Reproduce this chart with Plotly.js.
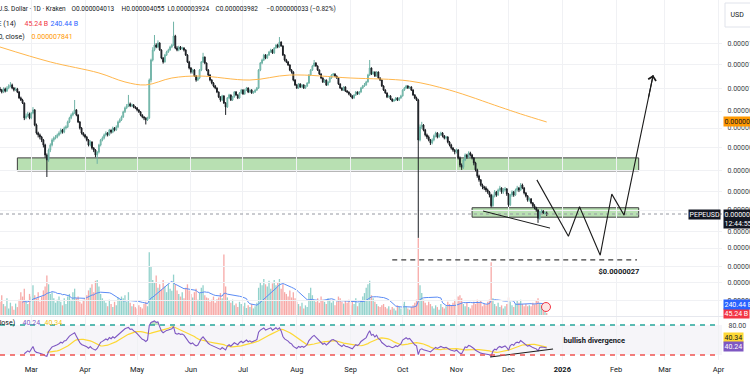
<!DOCTYPE html>
<html><head><meta charset="utf-8">
<script src="https://cdn.plot.ly/plotly-3.0.1.min.js"></script>
<style>html,body{margin:0;padding:0;overflow:hidden;background:#fff}#chart{width:800px;height:375px}</style>
</head><body><div id="chart"></div>
<script>
// ---------- data (prices in units of 1e-8 USD, volume in billions) ----------
const START_Y = 2025, START_M = 1, START_D = 11; // first candle: 2025-02-11
const FIRST_OPEN_E8 = 1000;
const closeE8 = [
992,978,1000,985,1007,1022,1030,1007,992,1000,
978,936,922,902,808,820,832,808,838,857,
767,723,713,702,687,662,615,593,638,662,
687,697,702,713,723,739,728,750,756,784,
808,826,838,857,826,784,750,723,713,702,
687,662,677,647,638,615,629,662,687,697,
713,723,713,739,728,750,739,756,784,796,
814,845,870,883,896,883,889,876,870,857,
845,826,814,808,796,808,1068,1238,1332,1382,
1362,1403,1332,1256,1220,1284,1313,1332,1362,1382,
1477,1352,1332,1362,1342,1352,1332,1284,1220,1167,
1133,1150,1100,1068,1084,1150,1220,1265,1211,1150,
1108,1068,1045,1022,1007,978,943,922,950,902,
876,936,957,922,943,978,957,936,971,992,
964,992,1007,978,992,971,978,992,1007,1150,
1211,1238,1284,1256,1284,1313,1332,1303,1352,1382,
1362,1413,1372,1284,1238,1220,1193,1150,1133,1068,
1030,1007,1038,1015,1030,1007,1022,1045,1108,1150,
1184,1211,1184,1150,1117,1084,1053,1068,1030,1053,
1084,1108,1117,1100,1084,1038,1007,992,1015,985,
978,964,950,936,957,978,964,978,1007,1022,
1030,1053,1108,1167,1117,1133,1100,1133,1084,1068,
1022,992,971,943,950,929,915,922,936,922,
936,950,992,1007,1022,1007,1015,992,957,936,
922,687,756,767,739,713,702,687,672,687,
708,723,702,713,723,708,697,702,677,662,
647,638,629,638,602,571,562,593,615,606,
624,615,602,580,551,527,512,493,486,482,
475,468,458,423,455,468,458,475,482,468,
475,479,461,426,458,468,458,475,482,475,
493,482,465,455,441,445,432,423,417,410,
386,404,407,401,401.3,398.2];
const highE8 = [
1015,1000,1012,1010,1020,1035,1052,1040,1015,1012,
1008,985,945,930,905,835,845,840,845,875,
862,775,730,720,708,692,668,622,645,670,
695,705,712,720,732,748,745,758,765,792,
815,835,848,922,862,830,790,755,728,718,
708,692,685,680,652,642,632,668,692,705,
720,732,728,745,742,758,755,765,792,805,
822,852,878,895,957,905,898,895,882,875,
862,850,830,818,812,815,1080,1250,1360,1488,
1400,1430,1410,1340,1265,1295,1325,1345,1375,1395,
1641,1490,1370,1375,1372,1365,1360,1340,1292,1230,
1175,1160,1158,1108,1095,1158,1228,1305,1270,1215,
1158,1115,1075,1052,1030,1012,982,948,958,955,
908,942,965,960,950,985,985,962,978,1000,
998,998,1015,1012,998,998,985,998,1015,1158,
1220,1250,1295,1292,1292,1322,1345,1340,1360,1390,
1395,1466,1420,1380,1292,1248,1228,1200,1158,1140,
1075,1038,1045,1042,1035,1035,1028,1050,1115,1158,
1192,1238,1218,1190,1155,1122,1090,1075,1072,1060,
1092,1115,1125,1122,1105,1090,1042,1012,1020,1020,
992,982,968,955,962,985,982,985,1015,1030,
1045,1062,1118,1238,1172,1140,1138,1140,1138,1090,
1072,1028,998,975,958,955,932,928,942,940,
942,958,998,1015,1030,1028,1022,1020,998,962,
945,930,770,785,772,745,720,710,692,695,
715,730,728,720,730,728,712,708,706,682,
668,652,642,645,642,608,578,598,622,620,
632,630,620,606,585,556,532,515,498,490,
488,480,472,462,460,475,472,480,490,485,
482,486,482,465,462,474,472,480,490,486,
500,498,486,468,458,450,448,435,428,420,
413,408,412,410,406,405.5];
const lowE8 = [
980,968,970,975,978,998,1012,998,982,985,
970,930,915,895,795,800,812,800,800,830,
760,715,700,690,676,650,603,523,585,628,
655,678,690,695,706,716,720,722,742,750,
778,800,818,832,818,778,742,715,705,695,
680,655,655,640,628,605,576,622,655,680,
690,705,705,708,720,722,732,735,750,778,
790,808,838,862,875,875,875,868,862,848,
838,818,806,795,770,790,802,1050,1225,1320,
1350,1350,1325,1245,1205,1215,1275,1305,1325,1350,
1375,1340,1320,1320,1332,1335,1318,1275,1210,1155,
1120,1120,1092,1055,1060,1075,1140,1210,1200,1140,
1098,1058,1035,1012,998,970,935,910,915,895,
826,870,930,915,915,938,950,928,930,965,
958,958,985,970,972,965,965,972,985,1000,
1140,1200,1228,1245,1248,1275,1305,1295,1295,1345,
1350,1355,1365,1275,1225,1210,1185,1140,1120,1058,
1022,1000,1000,1008,1008,1000,1000,1015,1038,1100,
1142,1178,1178,1142,1108,1075,1045,1045,1022,1025,
1045,1078,1100,1092,1078,1030,1000,985,985,978,
970,955,942,928,930,950,958,958,972,1000,
1015,1025,1048,1100,1108,1110,1092,1095,1078,1060,
1015,985,965,935,938,922,908,910,915,915,
915,930,945,985,1000,1000,1000,985,950,928,
915,334,680,745,732,705,692,680,662,665,
680,700,695,698,708,700,690,690,670,655,
640,630,618,622,595,562,551,555,588,598,
600,608,595,570,545,520,505,488,478,475,
468,462,450,418,420,450,452,455,470,462,
462,470,455,420,422,452,452,455,470,468,
472,478,460,450,436,436,428,418,412,405,
373,382,400,398,396,392.4];
const volumeB = [
300,450,250,200,380,150,280,200,120,260,
180,350,520,420,600,300,250,480,420,680,
450,380,520,300,420,560,650,900,700,480,
520,380,280,350,420,300,220,380,250,420,
480,350,520,600,380,420,300,260,350,380,
450,560,620,700,520,780,800,650,480,380,
320,280,200,350,250,180,300,220,400,350,
420,380,450,300,520,280,200,250,180,150,
220,180,150,250,300,200,1430,1100,800,750,
900,620,700,580,800,650,520,700,600,550,
920,700,560,480,420,520,380,620,700,560,
480,400,520,600,350,500,620,680,450,400,
380,300,350,420,280,360,400,500,380,1380,
650,400,320,280,350,220,260,180,300,250,
200,280,160,220,180,250,150,200,280,620,
750,680,820,700,650,780,600,720,800,680,
750,820,600,700,520,480,420,560,400,520,
380,300,250,200,280,150,220,180,500,620,
450,350,300,380,280,420,350,300,250,380,
320,280,350,220,300,420,380,300,260,320,
280,350,220,300,250,380,200,280,320,420,
500,620,700,780,450,380,300,250,200,180,
220,250,180,150,200,120,180,150,100,220,
180,150,250,300,200,150,120,180,220,280,
350,1750,680,500,350,280,220,300,250,200,
150,220,180,120,250,180,150,200,300,250,
220,280,350,300,420,450,380,250,200,280,
180,150,220,300,250,350,280,320,200,250,
220,300,350,1200,380,250,200,280,180,220,
150,200,250,400,300,220,180,250,320,280,
350,250,200,250,200,220,200,280,240,340,
380,272,220,240,280,45.24];
const sma200Dates = ['2025-02-11','2025-03-12','2025-04-09','2025-04-24','2025-05-06','2025-05-21','2025-06-06','2025-07-05','2025-07-28','2025-09-01','2025-10-05','2025-10-28','2025-11-26','2025-12-08','2025-12-23'];
const sma200E8 = [1362,1220,1125,1053,1030,1084,1100,1068,1108,1084,1060,992,876,832,784.1];
const priceTicksE8 = [1400,1200,1000,850,750,650,550,470,410,350,310,270,240,210];
const monthTicks = ['2025-03-01','2025-04-01','2025-05-01','2025-06-01','2025-07-01','2025-08-01','2025-09-01','2025-10-01','2025-11-01','2025-12-01','2026-01-01','2026-02-01','2026-03-01','2026-04-01'];
const monthLabels = ['Mar','Apr','May','Jun','Jul','Aug','Sep','Oct','Nov','Dec','<b>2026</b>','Feb','Mar','Apr'];
const upperZoneDates = ['2025-02-21','2026-02-14'];
const upperZoneE8 = [547, 602];
const lowerZoneDates = ['2025-11-10','2026-02-14'];
const lowerZoneE8 = [389, 417];
const targetDates = ['2025-09-25','2026-02-13'];
const targetE8 = 284;
const wedgeDates = ['2025-11-16 08:00','2025-12-24 22:00'];
const wedgeE8 = [407, 359];
const projDates = ['2025-12-17 08:00','2026-01-04 12:00','2026-01-10 22:00','2026-01-22 20:00','2026-01-29 12:00','2026-02-05 14:00','2026-02-22 08:00'];
const projE8 = [512, 338, 420, 294, 461, 395, 1108];
const divDates = ['2025-11-20 10:00','2025-12-26 16:00'];
const divRsi = [16, 32];
const lastCloseE8 = 398.2;
const smaLastE8 = 784.1;

// ---------- helpers ----------
const E8 = 1e-8;
const FONT = 'Roboto, "Liberation Sans", Arial, sans-serif';
const TXT = '#131722';
const PW = 722, PH = 360;
const X_RANGE = ['2025-02-11', '2026-04-03'];
const PRICE_DOM = [44/360, 1], PRICE_RANGE = [Math.log10(1.879e-6), Math.log10(1.9254e-5)];
const VOL_DOM = [45/360, 124/360], VOL_RANGE = [0, 1800];
const RSI_DOM = [0, 43/360], RSI_RANGE = [10, 96];
const xP = p => p / PW;
const yP = p => (PH - p) / PH;
const pY = v => PRICE_DOM[0] + (Math.log10(v) - PRICE_RANGE[0]) / (PRICE_RANGE[1] - PRICE_RANGE[0]) * (PRICE_DOM[1] - PRICE_DOM[0]);
const vY = v => VOL_DOM[0] + (v - VOL_RANGE[0]) / (VOL_RANGE[1] - VOL_RANGE[0]) * (VOL_DOM[1] - VOL_DOM[0]);
const rY = v => RSI_DOM[0] + (v - RSI_RANGE[0]) / (RSI_RANGE[1] - RSI_RANGE[0]) * (RSI_DOM[1] - RSI_DOM[0]);
const toP = a => a.map(v => v * E8);

const dates = closeE8.map((_, i) => new Date(Date.UTC(START_Y, START_M, START_D + i)).toISOString().slice(0, 10));
const openE8 = [FIRST_OPEN_E8].concat(closeE8.slice(0, -1));

function wilderRSI(c, n) {
  const out = c.map(() => null);
  let g = 0, l = 0;
  for (let i = 1; i <= n; i++) { const d = c[i] - c[i-1]; if (d > 0) g += d; else l -= d; }
  g /= n; l /= n;
  out[n] = l === 0 ? 100 : 100 - 100 / (1 + g / l);
  for (let i = n + 1; i < c.length; i++) {
    const d = c[i] - c[i-1];
    g = (g * (n - 1) + Math.max(d, 0)) / n;
    l = (l * (n - 1) + Math.max(-d, 0)) / n;
    out[i] = l === 0 ? 100 : 100 - 100 / (1 + g / l);
  }
  return out;
}
function sma(a, n) {
  return a.map((_, i) => {
    if (i < n - 1) return null;
    let s = 0;
    for (let k = i - n + 1; k <= i; k++) { if (a[k] == null) return null; s += a[k]; }
    return s / n;
  });
}
const rsi = wilderRSI(closeE8, 14);
const rsiMA = sma(rsi, 14);
const volMA = sma(volumeB, 14);
const volColors = closeE8.map((c, i) => c >= openE8[i] ? 'rgba(38,166,154,0.5)' : 'rgba(239,83,80,0.5)');

// ---------- traces ----------
const traces = [
  {type:'bar', x:dates, y:volumeB, xaxis:'x', yaxis:'y', marker:{color:volColors, line:{width:0}}, hoverinfo:'skip'},
  {type:'scatter', mode:'lines', x:dates, y:volMA, xaxis:'x', yaxis:'y', line:{color:'#5b8cf5', width:1}, hoverinfo:'skip'},
  {type:'scatter', mode:'lines', x:sma200Dates, y:toP(sma200E8), xaxis:'x', yaxis:'y2', line:{color:'#ffb74d', width:1, shape:'spline', smoothing:1}, hoverinfo:'skip'},
  {type:'candlestick', x:dates, open:toP(openE8), high:toP(highE8), low:toP(lowE8), close:toP(closeE8), xaxis:'x', yaxis:'y2',
    increasing:{line:{color:'#6fb3a6', width:1}, fillcolor:'#a3d5ca'},
    decreasing:{line:{color:'#1c1f24', width:1}, fillcolor:'#1c1f24'}, whiskerwidth:0, hoverinfo:'skip'},
  {type:'scatter', mode:'lines', x:X_RANGE, y:[lastCloseE8*E8, lastCloseE8*E8], xaxis:'x', yaxis:'y2', line:{color:'#9598a1', width:1, dash:'dot'}, hoverinfo:'skip'},
  {type:'scatter', mode:'lines', x:targetDates, y:[targetE8*E8, targetE8*E8], xaxis:'x', yaxis:'y2', line:{color:'#3d3d3d', width:1.4, dash:'5px,4px'}, hoverinfo:'skip'},
  {type:'scatter', mode:'lines', x:wedgeDates, y:toP(wedgeE8), xaxis:'x', yaxis:'y2', line:{color:'#1b1b1b', width:1}, hoverinfo:'skip'},
  {type:'scatter', mode:'lines', x:projDates, y:toP(projE8), xaxis:'x', yaxis:'y2', line:{color:'#1b1b1b', width:1.1}, hoverinfo:'skip'},
  {type:'scatter', mode:'lines', x:dates, y:rsi.map(v => v == null ? null : 80), xaxis:'x', yaxis:'y3', line:{width:0}, hoverinfo:'skip'},
  {type:'scatter', mode:'lines', x:dates, y:rsi.map(v => v == null ? null : Math.max(v, 80)), xaxis:'x', yaxis:'y3', line:{width:0}, fill:'tonexty', fillcolor:'rgba(76,175,80,0.35)', hoverinfo:'skip'},
  {type:'scatter', mode:'lines', x:dates, y:rsiMA, xaxis:'x', yaxis:'y3', line:{color:'#fdd835', width:1.2}, hoverinfo:'skip'},
  {type:'scatter', mode:'lines', x:dates, y:rsi, xaxis:'x', yaxis:'y3', line:{color:'#7e57c2', width:1.1}, hoverinfo:'skip'},
  {type:'scatter', mode:'lines', x:divDates, y:divRsi, xaxis:'x', yaxis:'y3', line:{color:'#1b1b1b', width:1.1}, hoverinfo:'skip'}
];

// ---------- annotations ----------
function ann(o) {
  const base = {showarrow:false, xref:'paper', yref:'paper', yanchor:'middle', xanchor:'left', borderpad:0.5,
    font:{family:FONT, size:7, color:TXT}};
  const r = Object.assign(base, o);
  if (o.font) r.font = Object.assign({family:FONT, size:7, color:TXT}, o.font);
  return r;
}
const R1 = {size:6.5};
const annotations = [
  ann({x:xP(68), y:yP(8), xanchor:'right', text:'PEPE / U.S. Dollar · 1D · Kraken', font:R1}),
  ann({x:xP(70), y:yP(8), text:'O0.000004013', font:R1}),
  ann({x:xP(120), y:yP(8), text:'H0.000004055', font:R1}),
  ann({x:xP(166), y:yP(8), text:'L0.000003924', font:R1}),
  ann({x:xP(214), y:yP(8), text:'C0.000003982', font:R1}),
  ann({x:xP(265), y:yP(8), text:'−0.000000033 (−0.82%)', font:R1}),
  ann({x:xP(18), y:yP(23), xanchor:'right', text:'Vol · PEPE (14)'}),
  ann({x:xP(23), y:yP(23), text:'45.24 B', font:{color:'#f23645'}}),
  ann({x:xP(49), y:yP(23), text:'240.44 B', font:{color:'#2962ff'}}),
  ann({x:xP(26), y:yP(37), xanchor:'right', text:'SMA (200, close)'}),
  ann({x:xP(30), y:yP(37), text:'0.000007841', font:{color:'#ff9800'}}),
  ann({x:xP(17), y:yP(322), xanchor:'right', text:'RSI (14, close)'}),
  ann({x:xP(21), y:yP(322), text:'40.24', font:{color:'#7e57c2'}}),
  ann({x:xP(43), y:yP(322), text:'40.34', font:{color:'#f2c40f'}}),
  ann({x:xP(562), y:yP(340), text:'<b>bullish divergence</b>', font:{size:7.5}}),
  ann({x:xP(641), y:yP(271), xanchor:'right', text:'<b>$0.0000027</b>', font:{size:7.5}}),
  ann({x:xP(729), y:yP(15), text:'USD'}),
  ann({x:xP(723), y:pY(smaLastE8*E8), text:'0.000007841', bgcolor:'#ff9800'}),
  ann({x:xP(721), y:pY(lastCloseE8*E8), xanchor:'right', text:'PEPEUSD', bgcolor:'#131722', font:{color:'#ffffff'}}),
  ann({x:xP(723), y:pY(lastCloseE8*E8), yanchor:'top', yshift:5.5, align:'left', text:'0.000003982<br>12:44:55', bgcolor:'#131722', font:{color:'#ffffff'}}),
  ann({x:xP(723), y:vY(45.24), text:'45.24 B', bgcolor:'#f23645', font:{color:'#ffffff'}}),
  ann({x:xP(723), y:vY(240.44), text:'240.44 B', bgcolor:'#2962ff', font:{color:'#ffffff'}}),
  ann({x:xP(727), y:rY(80), text:'80.00', font:{color:'#3b3f47'}}),
  ann({x:xP(723), y:yP(337), text:'40.34', bgcolor:'#fdd835'}),
  ann({x:xP(723), y:yP(346), text:'40.24', bgcolor:'#7e57c2', font:{color:'#ffffff'}}),
  {x:projDates[projDates.length-1], xref:'x', y:pY(projE8[projE8.length-1]*E8), yref:'paper', text:'', showarrow:true,
   ax:-5, ay:24, arrowhead:4, arrowsize:1.4, arrowwidth:1.1, arrowcolor:'#1b1b1b', standoff:0}
];

// ---------- shapes ----------
const shapes = [
  {type:'rect', xref:'x', yref:'y2', x0:upperZoneDates[0], x1:upperZoneDates[1], y0:upperZoneE8[0]*E8, y1:upperZoneE8[1]*E8,
   line:{color:'#3d3d3d', width:1}, fillcolor:'#b8e0b2', layer:'below'},
  {type:'rect', xref:'x', yref:'y2', x0:lowerZoneDates[0], x1:lowerZoneDates[1], y0:lowerZoneE8[0]*E8, y1:lowerZoneE8[1]*E8,
   line:{color:'#3d3d3d', width:1}, fillcolor:'#b8e0b2', layer:'below'},
  {type:'rect', xref:'paper', yref:'y3', x0:0, x1:1, y0:20, y1:80, line:{width:0}, fillcolor:'#f6f5f9', layer:'below'},
  {type:'line', xref:'paper', yref:'y3', x0:0, x1:0.995, y0:80, y1:80, line:{color:'#26a69a', width:1.3, dash:'5px,5px'}},
  {type:'line', xref:'paper', yref:'y3', x0:0, x1:0.995, y0:20, y1:20, line:{color:'#ef5350', width:1.3, dash:'5px,5px'}},
  {type:'line', xref:'paper', yref:'paper', x0:0, x1:xP(800), y0:yP(316.5), y1:yP(316.5), line:{color:'#e6e8ee', width:1}},
  {type:'rect', xref:'paper', yref:'paper', x0:xP(725), x1:xP(775), y0:yP(27), y1:yP(3), line:{color:'#e0e3eb', width:1}, fillcolor:'#ffffff'},
  {type:'circle', xref:'paper', yref:'paper', x0:xP(541.5), x1:xP(550.5), y0:yP(311.5), y1:yP(302.5), line:{color:'#f23645', width:1}, fillcolor:'#fde4e4'}
];

const gridC = '#f0f1f4';
const layout = {
  width:800, height:375, margin:{l:0, r:78, t:0, b:15},
  paper_bgcolor:'#ffffff', plot_bgcolor:'rgba(0,0,0,0)',
  showlegend:false, hovermode:false, bargap:0.25,
  font:{family:FONT, size:7, color:TXT},
  xaxis:{type:'date', range:X_RANGE, anchor:'y3', tickvals:monthTicks, ticktext:monthLabels,
    showgrid:true, gridcolor:gridC, gridwidth:1, zeroline:false, showline:false,
    ticks:'outside', ticklen:2, tickcolor:'rgba(0,0,0,0)', tickfont:{family:FONT, size:7.5, color:TXT},
    rangeslider:{visible:false}, fixedrange:true},
  yaxis:{domain:VOL_DOM, range:VOL_RANGE, anchor:'x', showgrid:false, zeroline:false, showticklabels:false, ticks:''},
  yaxis2:{domain:PRICE_DOM, type:'log', range:PRICE_RANGE, anchor:'x', side:'right',
    tickvals:toP(priceTicksE8), ticktext:priceTicksE8.map(v => (v*E8).toFixed(9)),
    showgrid:true, gridcolor:gridC, gridwidth:1, zeroline:false, showline:false,
    ticks:'outside', ticklen:3, tickcolor:'rgba(0,0,0,0)', tickfont:{family:FONT, size:7, color:'#3b3f47'}},
  yaxis3:{domain:RSI_DOM, range:RSI_RANGE, anchor:'x', side:'right', showgrid:false, zeroline:false, showticklabels:false, ticks:''},
  annotations:annotations, shapes:shapes
};
Plotly.newPlot('chart', traces, layout, {staticPlot:true, displayModeBar:false});
</script>
</body></html>
